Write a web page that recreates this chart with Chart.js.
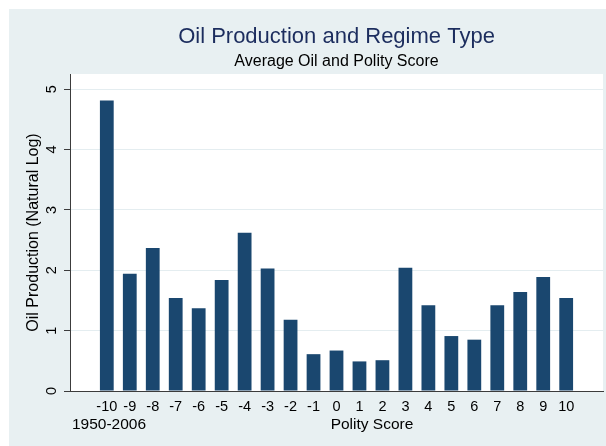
<!DOCTYPE html>
<html>
<head>
<meta charset="utf-8">
<script src="https://cdn.jsdelivr.net/npm/chart.js@4"></script>
<style>
  html, body { margin: 0; padding: 0; background: #ffffff; }
  #wrap { position: absolute; left: 9px; top: 9px; width: 597px; height: 437px; background: #e8f0f2; }
  canvas { display: block; }
</style>
</head>
<body>
<div id="wrap"><canvas id="oilChart" width="597" height="437"></canvas></div>
<script>
// ── Data ──
const polityScores = [-10, -9, -8, -7, -6, -5, -4, -3, -2, -1, 0, 1, 2, 3, 4, 5, 6, 7, 8, 9, 10];
const oilLog       = [4.81, 1.94, 2.37, 1.54, 1.37, 1.84, 2.62, 2.03, 1.18, 0.61, 0.67,
                      0.49, 0.51, 2.04, 1.42, 0.91, 0.85, 1.42, 1.64, 1.89, 1.54];
const yTicks       = [0, 1, 2, 3, 4, 5];

const FONT = "'Liberation Sans', Arial, sans-serif";

// white plot region, like Stata's plotregion
const plotBg = {
    id: 'plotBg',
    beforeDraw(chart) {
        const { ctx, chartArea: a } = chart;
        ctx.save();
        ctx.fillStyle = '#ffffff';
        ctx.fillRect(a.left, a.top, a.right - a.left, a.bottom - a.top);
        ctx.restore();
    }
};

// texts under the x axis (Stata puts the period note at the left)
const bottomTexts = {
    id: 'bottomTexts',
    afterDraw(chart) {
        const { ctx, chartArea } = chart;
        ctx.save();
        ctx.font = '15.5px ' + FONT;
        ctx.fillStyle = '#000000';
        ctx.textAlign = 'center';
        ctx.textBaseline = 'middle';
        const y = chartArea.bottom + 34;
        ctx.fillText('1950-2006', chartArea.left + 39, y);
        ctx.fillText('Polity Score', chartArea.left + 302, y);
        ctx.restore();
    }
};

new Chart(document.getElementById('oilChart'), {
    type: 'bar',
    data: {
        datasets: [{
            label: 'Oil Production',
            data: polityScores.map((p, i) => ({ x: p, y: oilLog[i] })),
            backgroundColor: '#1a476f',
            borderWidth: 0,
            categoryPercentage: 1,
            barPercentage: 0.6,
        }]
    },
    options: {
        responsive: false,
        animation: false,
        layout: { padding: { left: 0, right: 3, top: 0, bottom: 0 } },
        scales: {
            x: {
                type: 'linear',
                min: -11.05,
                max: 11.05,
                afterBuildTicks: s => { s.ticks = polityScores.map(v => ({ value: v })); },
                afterFit: s => { s.height = 55; },
                grid: { drawOnChartArea: false, drawTicks: false },
                border: { display: true, color: '#3c3c3c', width: 1 },
                ticks: {
                    autoSkip: false,
                    maxRotation: 0,
                    padding: 7,
                    color: '#000000',
                    font: { family: FONT, size: 14.5 },
                    callback: v => String(v)
                }
            },
            y: {
                min: 0,
                max: 5.25,
                afterBuildTicks: s => { s.ticks = yTicks.map(v => ({ value: v })); },
                afterFit: s => { s.width = 61; },
                grid: { color: '#e4edf0', lineWidth: 1, tickColor: '#3c3c3c', tickLength: 6 },
                border: { display: true, color: '#3c3c3c', width: 1 },
                ticks: {
                    minRotation: 90,
                    maxRotation: 90,
                    crossAlign: 'center',
                    padding: 8,
                    color: '#000000',
                    font: { family: FONT, size: 14.5 }
                },
                title: {
                    display: true,
                    text: 'Oil Production (Natural Log)',
                    color: '#000000',
                    font: { family: FONT, size: 16 },
                    padding: { top: 15.4, bottom: 0 }
                }
            }
        },
        plugins: {
            legend: { display: false },
            tooltip: { enabled: false },
            title: {
                display: true,
                fullSize: false,
                text: 'Oil Production and Regime Type',
                color: '#1c2d5e',
                font: { family: FONT, size: 22, weight: 'normal' },
                padding: { top: 14.8, bottom: 0 }
            },
            subtitle: {
                display: true,
                fullSize: false,
                text: 'Average Oil and Polity Score',
                color: '#000000',
                font: { family: FONT, size: 16, weight: 'normal' },
                padding: { top: 2.2, bottom: 2.4 }
            }
        }
    },
    plugins: [plotBg, bottomTexts]
});
</script>
</body>
</html>
